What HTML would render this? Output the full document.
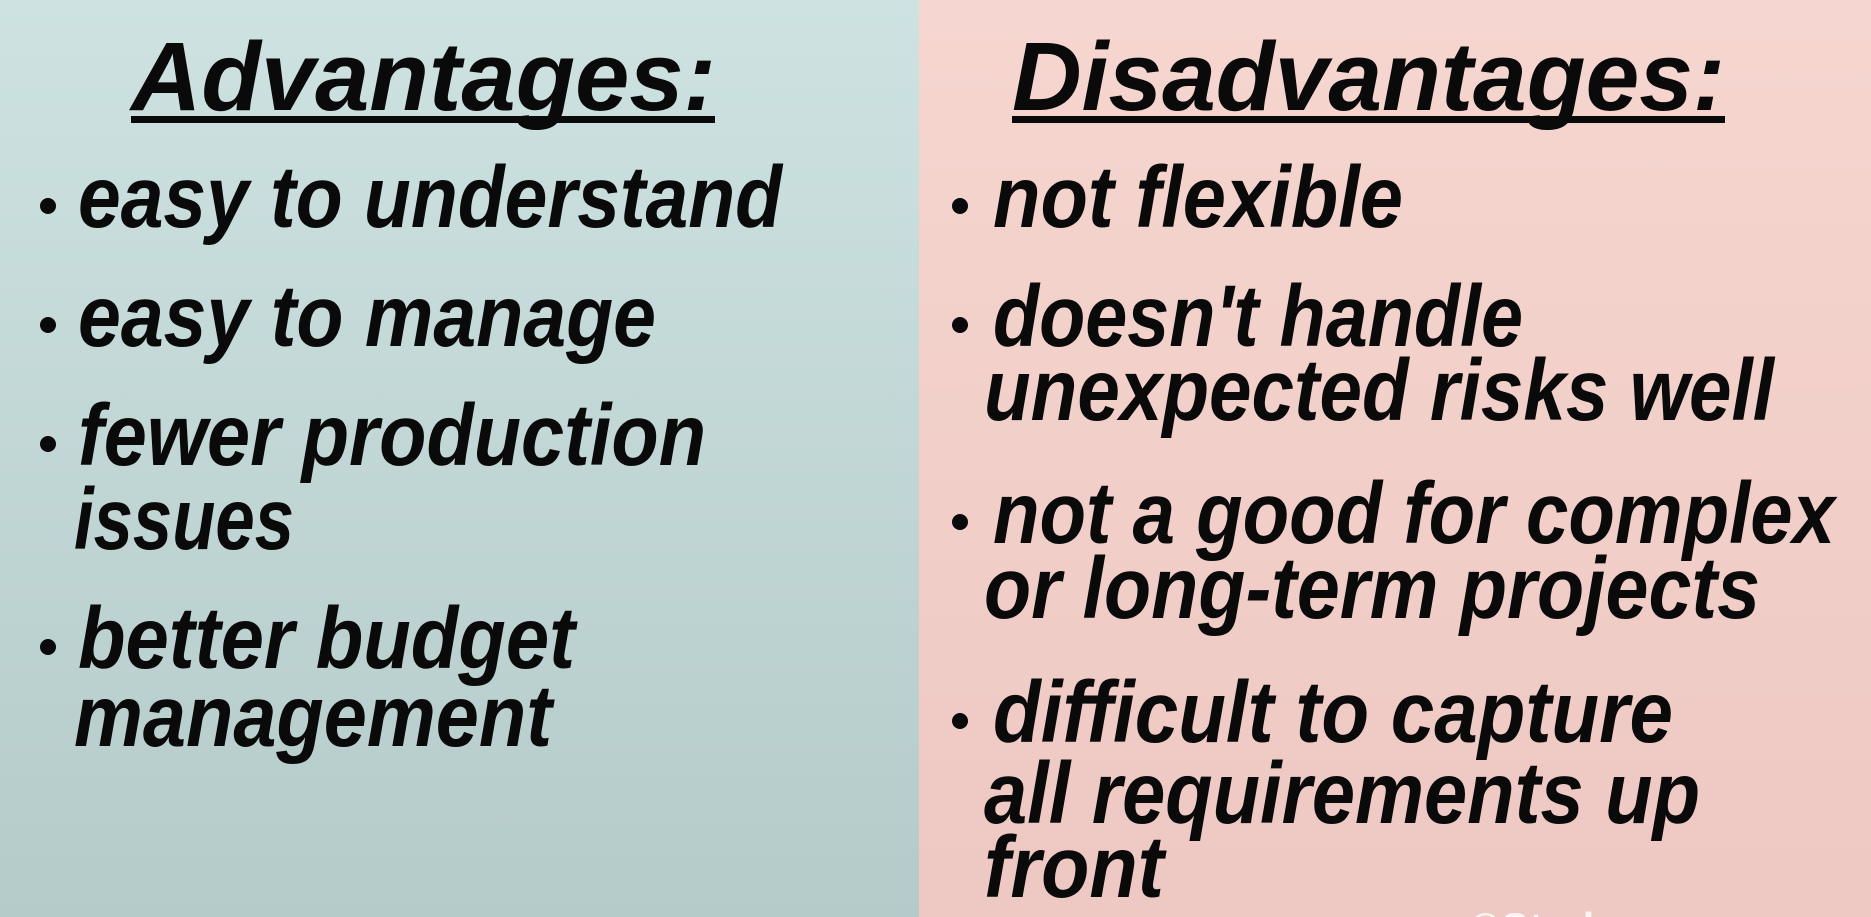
<!DOCTYPE html>
<html><head><meta charset="utf-8"><style>
html,body{margin:0;padding:0;width:1871px;height:917px;overflow:hidden}
svg{display:block}
text{font-family:"Liberation Sans",sans-serif;font-weight:bold;font-style:italic;fill:#0a0a0a}
</style></head><body>
<svg width="1871" height="917" viewBox="0 0 1871 917" xmlns="http://www.w3.org/2000/svg">
<defs>
<linearGradient id="gl" x1="0" y1="0" x2="0" y2="1"><stop offset="0" stop-color="#cde2e1"/><stop offset="1" stop-color="#b5cbca"/></linearGradient>
<linearGradient id="gr" x1="0" y1="0" x2="0" y2="1"><stop offset="0" stop-color="#f6d6d0"/><stop offset="1" stop-color="#eec8c2"/></linearGradient>
</defs>
<rect x="0" y="0" width="919" height="917" fill="url(#gl)"/>
<rect x="919" y="0" width="952" height="917" fill="url(#gr)"/>
<g font-size="97">
<text x="131" y="110" textLength="585" lengthAdjust="spacingAndGlyphs">Advantages:</text>
<text x="1012" y="110" textLength="713" lengthAdjust="spacingAndGlyphs">Disadvantages:</text>
</g>
<rect x="131" y="116" width="584" height="7" fill="#0a0a0a"/>
<rect x="1012" y="116" width="713" height="7" fill="#0a0a0a"/>
<g fill="#0a0a0a">
<circle cx="48" cy="206" r="8"/><circle cx="48" cy="325" r="8"/><circle cx="48" cy="444" r="8"/><circle cx="48" cy="647" r="8"/>
<circle cx="960" cy="206" r="8"/><circle cx="960" cy="325" r="8"/><circle cx="960" cy="522" r="8"/><circle cx="960" cy="721" r="8"/>
</g>
<g font-size="76">
<text transform="translate(78,227) scale(1,1.15)" textLength="704" lengthAdjust="spacingAndGlyphs">easy to understand</text>
<text transform="translate(78,346) scale(1,1.15)" textLength="578" lengthAdjust="spacingAndGlyphs">easy to manage</text>
<text transform="translate(78,465) scale(1,1.15)" textLength="628" lengthAdjust="spacingAndGlyphs">fewer production</text>
<text transform="translate(74,549) scale(1,1.15)" textLength="220" lengthAdjust="spacingAndGlyphs">issues</text>
<text transform="translate(78,668) scale(1,1.15)" textLength="497" lengthAdjust="spacingAndGlyphs">better budget</text>
<text transform="translate(74,746) scale(1,1.15)" textLength="478" lengthAdjust="spacingAndGlyphs">management</text>

<text transform="translate(993,227) scale(1,1.15)" textLength="410" lengthAdjust="spacingAndGlyphs">not flexible</text>
<text transform="translate(993,346) scale(1,1.15)" textLength="530" lengthAdjust="spacingAndGlyphs">doesn't handle</text>
<text transform="translate(984,420) scale(1,1.15)" textLength="790" lengthAdjust="spacingAndGlyphs">unexpected risks well</text>
<text transform="translate(993,543) scale(1,1.15)" textLength="842" lengthAdjust="spacingAndGlyphs">not a good for complex</text>
<text transform="translate(984,618) scale(1,1.15)" textLength="776" lengthAdjust="spacingAndGlyphs">or long-term projects</text>
<text transform="translate(993,742) scale(1,1.15)" textLength="680" lengthAdjust="spacingAndGlyphs">difficult to capture</text>
<text transform="translate(984,823) scale(1,1.15)" textLength="716" lengthAdjust="spacingAndGlyphs">all requirements up</text>
<text transform="translate(984,897) scale(1,1.15)" textLength="180" lengthAdjust="spacingAndGlyphs">front</text>
</g>
<text x="1470" y="942" font-size="42" style="fill:#ffffff;font-style:normal" opacity="0.8">©Study.com</text>
</svg>
</body></html>
